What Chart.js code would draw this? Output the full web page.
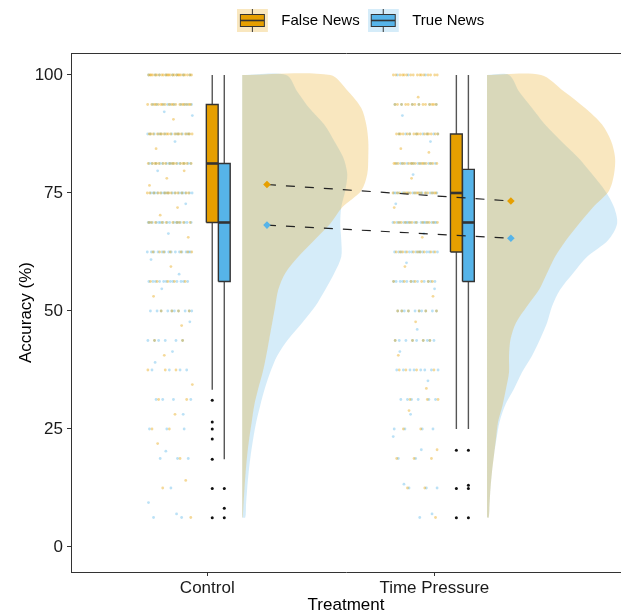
<!DOCTYPE html>
<html>
<head>
<meta charset="utf-8">
<script src="https://cdn.jsdelivr.net/npm/chart.js@4.4.1/dist/chart.umd.min.js"></script>
<style>
body { margin: 0; background: #fff; }
#wrap { width: 621px; height: 614px; }
</style>
</head>
<body>
<div id="wrap"><canvas id="chart" width="621" height="614"></canvas></div>
<script>
const treatments = ['Control', 'Time Pressure']
const groups = ['False News', 'True News']
const yTicks = [0, 25, 50, 75, 100]

// boxplot stats, one entry per treatment
const falseQ1 = [68.75, 62.5]
const falseMedian = [81.25, 75]
const falseQ3 = [93.75, 87.5]
const falseLow = [33.3, 25]
const falseHigh = [100, 100]
const falseOutliers = [[31.1, 26.5, 25, 22.9, 18.6, 12.4, 6.2], [20.5, 12.4, 6.2]]

const trueQ1 = [56.25, 56.25]
const trueMedian = [68.75, 68.75]
const trueQ3 = [81.25, 80]
const trueLow = [18.6, 25]
const trueHigh = [100, 100]
const trueOutliers = [[12.4, 8.2, 6.2], [20.5, 13.1, 12.4, 6.2]]

// group means
const falseMean = [76.8, 73.3]
const trueMean = [68.2, 65.4]

// half violins: density (relative width) at each accuracy level
const densLevels = [100, 96.5, 93, 89.5, 86, 82.5, 79, 75.5, 72, 68.5, 65, 61.5, 58, 54.5, 51, 47.5, 44, 40.5, 37, 33.5, 30, 26.5, 23, 19.5, 16, 12.5, 9, 6.25]
const densFalseControl = [88, 106, 119, 124, 126, 126, 125, 119, 100, 88, 72, 56, 43, 36, 33, 30, 27, 24, 20.5, 16, 12, 9.5, 7, 5, 3.5, 2.3, 1.3, 0.5]
const densTrueControl = [44, 55, 67, 82, 92, 101, 105, 103, 99, 98, 99, 99, 92, 83, 73, 60, 46, 35, 28, 22.5, 18, 14, 11, 8.5, 6.5, 5, 3.8, 3]
const densFalseTP = [54, 77, 98, 115, 124, 128, 127, 122, 106, 92, 79, 68, 60, 52, 40, 29, 23.5, 22, 22, 19, 15.5, 11, 9, 7, 5, 3.5, 2.5, 1.7]
const densTrueTP = [22, 32, 45, 58, 74, 91, 105, 118, 127, 130, 121, 100, 86, 73, 65, 60, 53, 45, 35, 27, 18, 12.5, 9.5, 7, 5, 3.5, 2.5, 1.7]

// raw participants: how many sit on each accuracy row, plus the odd ones in between
const rowLevels = [100, 93.75, 87.5, 81.25, 75, 68.75, 62.5, 56.25, 50, 43.75, 37.5, 31.25, 25, 18.75, 12.5, 6.25]
const countFalseControl = [24, 18, 18, 16, 14, 10, 7, 5, 4, 2, 3, 2, 2, 1, 1, 1]
const countTrueControl = [8, 10, 12, 14, 16, 16, 14, 12, 10, 6, 4, 4, 3, 3, 1, 2]
const countFalseTP = [16, 14, 16, 16, 16, 12, 10, 7, 6, 4, 4, 3, 2, 3, 2, 1]
const countTrueTP = [3, 6, 8, 12, 14, 16, 14, 12, 10, 9, 8, 6, 4, 2, 3, 1]
const extraFalseControl = [90.6, 84.4, 79.7, 78.1, 76.6, 71.9, 70.3, 65.6, 59.4, 53.1, 46.9, 40.6, 34.4, 28.1, 21.9, 14.1]
const extraTrueControl = [92.2, 91.4, 85.9, 79.7, 72.7, 66.4, 60.9, 57.8, 54.7, 47.7, 41.4, 39.1, 28.1, 20.3, 9.4, 7.0]
const extraFalseTP = [95.3, 84.4, 83.6, 78.1, 71.9, 65.6, 59.4, 53.1, 47.7, 40.6, 33.6, 28.9, 20.6]
const extraTrueTP = [91.4, 85.9, 78.9, 72.7, 66.4, 60.2, 54.7, 46.1, 41.4, 35.2, 28.1, 23.4, 20.6, 13.3, 7.0]

const ORANGE = '#E69F00'
const BLUE = '#56B4E9'

// where things sit along x for each treatment (axis units)
const jitterX = [0.835, 1.917]
const boxFalseX = [1.022, 2.097]
const boxTrueX = [1.075, 2.150]
const violinX = [1.154, 2.232]
const meanX = [1.263, 2.337]
const BW = 0.026
const JIT = 0.1
const VSCALE = 1 / 227
const Y_MIN = -5.3
const Y_MAX = 104.66

function jitterPoints(counts, extras, cx, seed) {
    const pts = []
    let k = seed
    const jx = () => { k++; return cx + (((k * 0.618034) % 1) * 2 - 1) * JIT }
    rowLevels.forEach((lvl, i) => {
        for (let j = 0; j < counts[i]; j++) pts.push({x: jx(), y: lvl})
    })
    extras.forEach(v => pts.push({x: jx(), y: v}))
    return pts
}

function violinShape(base, dens) {
    const pts = [{x: base, y: densLevels[0]}]
    densLevels.forEach((lvl, i) => pts.push({x: base + dens[i] * VSCALE, y: lvl}))
    pts.push({x: base, y: densLevels[densLevels.length - 1]})
    return pts
}

function boxSets(cx, q1, med, q3, lo, hi, outl, color) {
    return [
        { data: [{x: cx, y: lo}, {x: cx, y: hi}], borderColor: '#555', borderWidth: 1.4, order: 4 },
        { data: [{x: cx - BW, y: q1}, {x: cx + BW, y: q1}, {x: cx + BW, y: q3}, {x: cx - BW, y: q3}, {x: cx - BW, y: q1}],
          fill: 'shape', backgroundColor: color, borderColor: '#333', borderWidth: 1.4, order: 3 },
        { data: [{x: cx - BW, y: med}, {x: cx + BW, y: med}], borderColor: '#333', borderWidth: 2.6, order: 2 },
        { data: outl.map(v => ({x: cx, y: v})), showLine: false, pointRadius: 1.5,
          pointBackgroundColor: '#111', pointBorderWidth: 0, order: 2 }
    ]
}

const datasets = []
const dens = [[densFalseControl, densTrueControl], [densFalseTP, densTrueTP]]
const counts = [[countFalseControl, countTrueControl], [countFalseTP, countTrueTP]]
const extras = [[extraFalseControl, extraTrueControl], [extraFalseTP, extraTrueTP]]

treatments.forEach((t, i) => {
    datasets.push({ data: jitterPoints(counts[i][1], extras[i][1], jitterX[i], 7 + i * 31), showLine: false,
        pointRadius: 1.4, pointBorderWidth: 0, pointBackgroundColor: 'rgba(86,180,233,0.4)', order: 9 })
    datasets.push({ data: jitterPoints(counts[i][0], extras[i][0], jitterX[i], 3 + i * 17), showLine: false,
        pointRadius: 1.4, pointBorderWidth: 0, pointBackgroundColor: 'rgba(230,159,0,0.4)', order: 8 })
    datasets.push({ data: violinShape(violinX[i], dens[i][1]), fill: 'shape', borderWidth: 0,
        backgroundColor: 'rgba(86,180,233,0.25)', tension: 0.3, order: 7 })
    datasets.push({ data: violinShape(violinX[i], dens[i][0]), fill: 'shape', borderWidth: 0,
        backgroundColor: 'rgba(230,159,0,0.25)', tension: 0.3, order: 6 })
    boxSets(boxFalseX[i], falseQ1[i], falseMedian[i], falseQ3[i], falseLow[i], falseHigh[i], falseOutliers[i], ORANGE).forEach(d => datasets.push(d))
    boxSets(boxTrueX[i], trueQ1[i], trueMedian[i], trueQ3[i], trueLow[i], trueHigh[i], trueOutliers[i], BLUE).forEach(d => datasets.push(d))
})

// mean points joined across treatments
;[[falseMean, ORANGE], [trueMean, BLUE]].forEach(([m, c]) => {
    datasets.push({ data: treatments.map((t, i) => ({x: meanX[i], y: m[i]})), borderColor: '#222', borderWidth: 1.2,
        borderDash: [9, 10], pointRadius: 0, order: 1 })
    datasets.push({ data: treatments.map((t, i) => ({x: meanX[i], y: m[i]})), showLine: false, pointStyle: 'rectRot',
        pointRadius: 3.8, pointBackgroundColor: c, pointBorderColor: c, pointBorderWidth: 0, order: 0 })
})
datasets.forEach(d => { if (d.pointRadius === undefined) d.pointRadius = 0 })

function legendIcon(color, light) {
    const c = document.createElement('canvas')
    c.width = 37; c.height = 23
    const g = c.getContext('2d')
    g.fillStyle = light
    g.fillRect(0, 0, 31, 23)
    g.strokeStyle = '#333'
    g.lineWidth = 1
    g.beginPath(); g.moveTo(15.5, 0); g.lineTo(15.5, 23); g.stroke()
    g.fillStyle = color
    g.fillRect(3, 5, 25, 13)
    g.strokeRect(3.5, 5.5, 24, 12)
    g.lineWidth = 1.6
    g.beginPath(); g.moveTo(3, 11.5); g.lineTo(28, 11.5); g.stroke()
    return c
}
const icons = [legendIcon(ORANGE, 'rgba(230,159,0,0.25)'), legendIcon(BLUE, 'rgba(86,180,233,0.25)')]

const shiftLegend = {
    id: 'shiftLegend',
    afterLayout(chart) { chart.legend.left += 50; chart.legend.right += 50 }
}

// no extra edge padding on any axis
function noPad(s) { s.paddingLeft = 0; s.paddingRight = 0; s.paddingTop = 0; s.paddingBottom = 0 }
const isTop = ctx => ctx.tick && ctx.tick.value > 100

const FONT = 'Liberation Sans, Arial, Helvetica, sans-serif'

new Chart(document.getElementById('chart'), {
    type: 'line',
    data: { datasets },
    plugins: [shiftLegend],
    options: {
        responsive: false,
        animation: false,
        layout: { autoPadding: false, padding: { top: 5, left: 0, right: 0, bottom: 0 } },
        plugins: {
            tooltip: { enabled: false },
            legend: {
                position: 'top',
                labels: {
                    usePointStyle: true,
                    pointStyleWidth: 37,
                    padding: 8,
                    color: '#000',
                    font: { family: FONT, size: 15 },
                    generateLabels: () => groups.map((g, i) => ({
                        text: g, pointStyle: icons[i], fillStyle: 'transparent', strokeStyle: 'transparent',
                        lineWidth: 0, hidden: false, datasetIndex: 0, fontColor: '#000'
                    }))
                }
            }
        },
        scales: {
            x: {
                type: 'linear',
                min: 0.4, max: 2.822,
                afterBuildTicks: s => { s.ticks = treatments.map((t, i) => ({value: i + 1})) },
                afterFit: s => { s.height = 42; noPad(s) },
                ticks: { callback: v => treatments[v - 1], autoSkip: false, maxRotation: 0, padding: 2,
                    color: '#1a1a1a', font: { family: FONT, size: 17 } },
                grid: { drawOnChartArea: false, drawTicks: true, tickLength: 4, tickColor: '#333' },
                border: { display: true, color: '#333', width: 1 },
                title: { display: true, text: 'Treatment', color: '#000', padding: { top: 0, bottom: -2 },
                    font: { family: FONT, size: 17 } }
            },
            // empty strip under the legend
            x2: {
                type: 'linear', position: 'top',
                min: 0.4, max: 2.822,
                afterBuildTicks: s => { s.ticks = [] },
                afterFit: s => { s.height = 15; noPad(s) },
                ticks: { display: false },
                grid: { display: false },
                border: { display: false }
            },
            y: {
                min: Y_MIN, max: Y_MAX,
                // extra tick at the top edge only carries the panel's top line
                afterBuildTicks: s => { s.ticks = yTicks.concat([Y_MAX]).map(v => ({value: v})) },
                afterFit: s => { s.width = 71; noPad(s) },
                ticks: { padding: 4, color: '#1a1a1a', font: { family: FONT, size: 17 },
                    callback: v => v > 100 ? '' : v },
                grid: { drawOnChartArea: true, drawTicks: true, tickLength: 4,
                    color: ctx => isTop(ctx) ? '#333' : 'rgba(0,0,0,0)',
                    tickColor: ctx => isTop(ctx) ? 'rgba(0,0,0,0)' : '#333' },
                border: { display: true, color: '#333', width: 1 },
                title: { display: true, text: 'Accuracy (%)', color: '#000', padding: { top: 16, bottom: 0 },
                    font: { family: FONT, size: 17 } }
            }
        }
    }
})
</script>
</body>
</html>
